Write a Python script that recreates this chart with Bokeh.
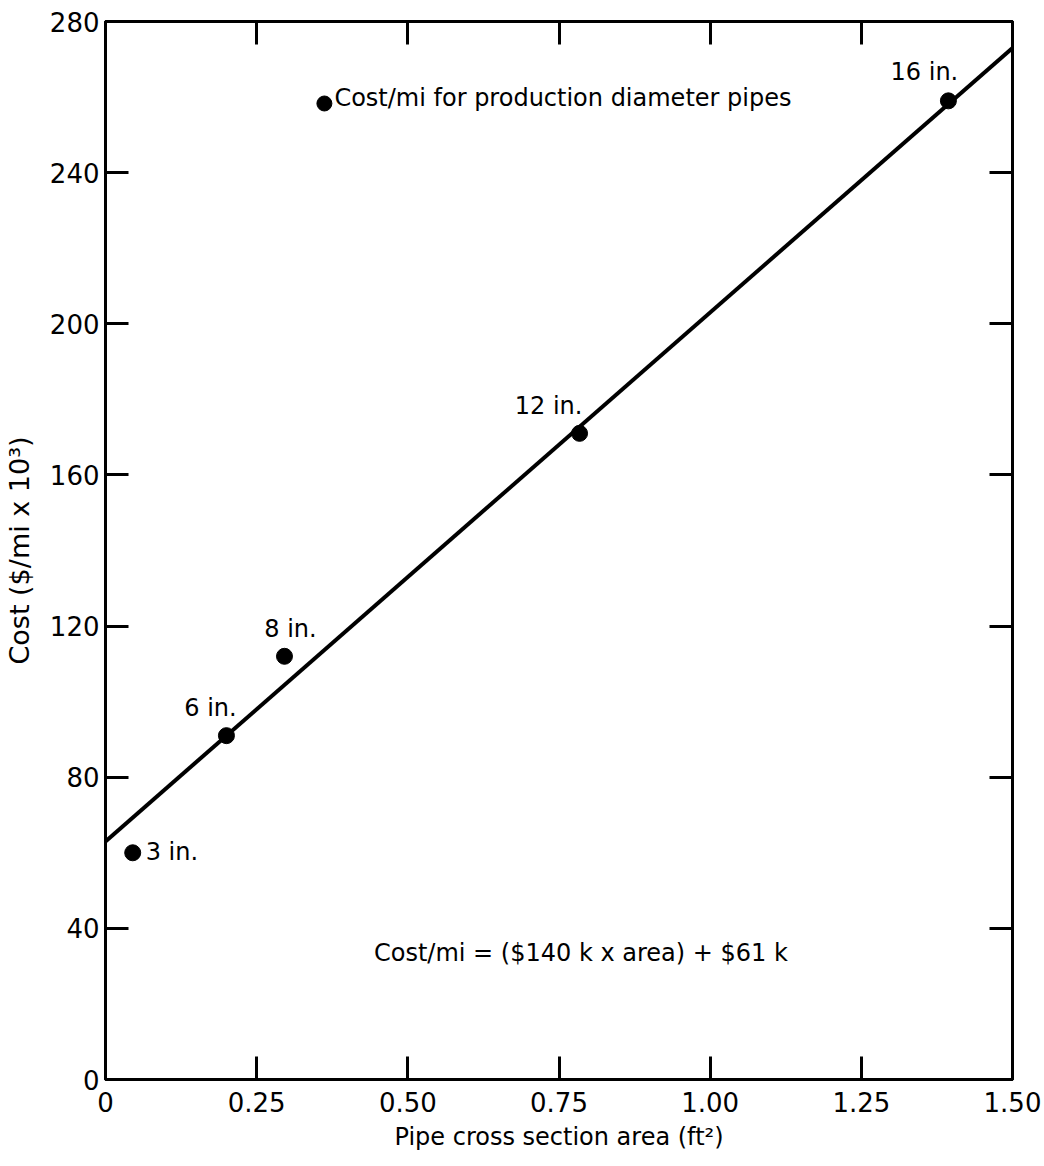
from bokeh.plotting import figure
from bokeh.models import LinearAxis, FixedTicker, ColumnDataSource, CustomLabelingPolicy
from bokeh.core.properties import value
from bokeh.embed import file_html
from bokeh.resources import INLINE

# ---- data ----
pipe_labels = ["3 in.", "6 in.", "8 in.", "12 in.", "16 in."]
area_ft2 = [0.045, 0.200, 0.296, 0.784, 1.394]
cost_k = [60, 91, 112, 171, 259]

fit_x = [0.0, 1.5]
fit_y = [63, 273]

x_ticks = [0, 0.25, 0.5, 0.75, 1.0, 1.25, 1.5]
x_tick_labels = ["0", "0.25", "0.50", "0.75", "1.00", "1.25", "1.50"]
y_ticks = [0, 40, 80, 120, 160, 200, 240, 280]
y_tick_labels = ["0", "40", "80", "120", "160", "200", "240", "280"]

legend_x = [0.362]
legend_y = [258.3]
legend_text = "Cost/mi for production diameter pipes"
equation_text = "Cost/mi = ($140 k x area) + $61 k"
equation_x = 0.444
equation_y = 33.6

# label offsets (pixels) for the point annotations
label_dx = [13, -16, 6, -31, -24]
label_dy = [-1, -28, -27.5, -27, -28.5]
label_align = ["left", "center", "center", "center", "center"]

FONT = "DejaVu Sans"

p = figure(width=1044, height=1166, x_range=(0, 1.5), y_range=(0, 280),
           output_backend="svg", toolbar_location=None,
           min_border_left=105, min_border_right=32,
           min_border_top=21, min_border_bottom=87)
p.grid.visible = False
p.outline_line_color = "black"
p.outline_line_width = 3
p.background_fill_color = "white"
p.border_fill_color = "white"

xt = FixedTicker(ticks=x_ticks)
yt = FixedTicker(ticks=y_ticks)

for ax in [p.xaxis[0], p.yaxis[0]]:
    ax.axis_line_width = 3
    ax.major_tick_line_width = 3
    ax.major_tick_in = 23
    ax.major_tick_out = 0
    ax.minor_tick_line_color = None
    ax.major_label_text_font = FONT
    ax.major_label_text_font_size = "26px"
    ax.major_label_text_color = "black"
    ax.axis_label_text_font = FONT
    ax.axis_label_text_font_style = "normal"
    ax.axis_label_text_color = "black"

p.xaxis[0].ticker = xt
p.yaxis[0].ticker = yt
p.xaxis[0].major_label_overrides = {t: l for t, l in zip(x_ticks, x_tick_labels)}
p.yaxis[0].major_label_overrides = {t: l for t, l in zip(y_ticks, y_tick_labels)}
p.xaxis[0].major_label_standoff = 12
p.yaxis[0].major_label_standoff = 6
p.xaxis[0].axis_label = "Pipe cross section area (ft\u00b2)"
p.xaxis[0].axis_label_text_font_size = "24px"
p.xaxis[0].axis_label_standoff = 8
p.yaxis[0].axis_label = "Cost ($/mi x 10\u00b3)"
p.yaxis[0].axis_label_text_font_size = "27px"
p.yaxis[0].axis_label_standoff = 12

no_labels = CustomLabelingPolicy(code="""
    for (const i of indices)
        indices.unset(i)
    return indices
""")

for loc, tk in [("above", xt), ("right", yt)]:
    ax = LinearAxis(ticker=tk, major_label_policy=no_labels)
    ax.axis_line_width = 3
    ax.major_tick_line_width = 3
    ax.major_tick_in = 23
    ax.major_tick_out = 0
    ax.minor_tick_line_color = None
    ax.major_label_standoff = 0
    p.add_layout(ax, loc)

# fit line
p.line(fit_x, fit_y, line_color="black", line_width=4)

# points
src = ColumnDataSource(dict(x=area_ft2, y=cost_k, t=pipe_labels,
                            dx=label_dx, dy=label_dy, al=label_align))
p.scatter("x", "y", source=src, size=16, color="black")
p.text("x", "y", text="t", source=src, x_offset="dx", y_offset="dy",
       text_align="al", text_baseline="middle",
       text_font=value(FONT), text_font_size="24px", text_color="black")

# legend-like annotation
p.scatter(legend_x, legend_y, size=15, color="black")
p.text(legend_x, legend_y, text=[legend_text], x_offset=10, y_offset=-5,
       text_align="left", text_baseline="middle",
       text_font=value(FONT), text_font_size="24px", text_color="black")

# equation
p.text([equation_x], [equation_y], text=[equation_text],
       text_align="left", text_baseline="middle",
       text_font=value(FONT), text_font_size="24px", text_color="black")

open("out.html", "w").write(file_html(p, INLINE))
